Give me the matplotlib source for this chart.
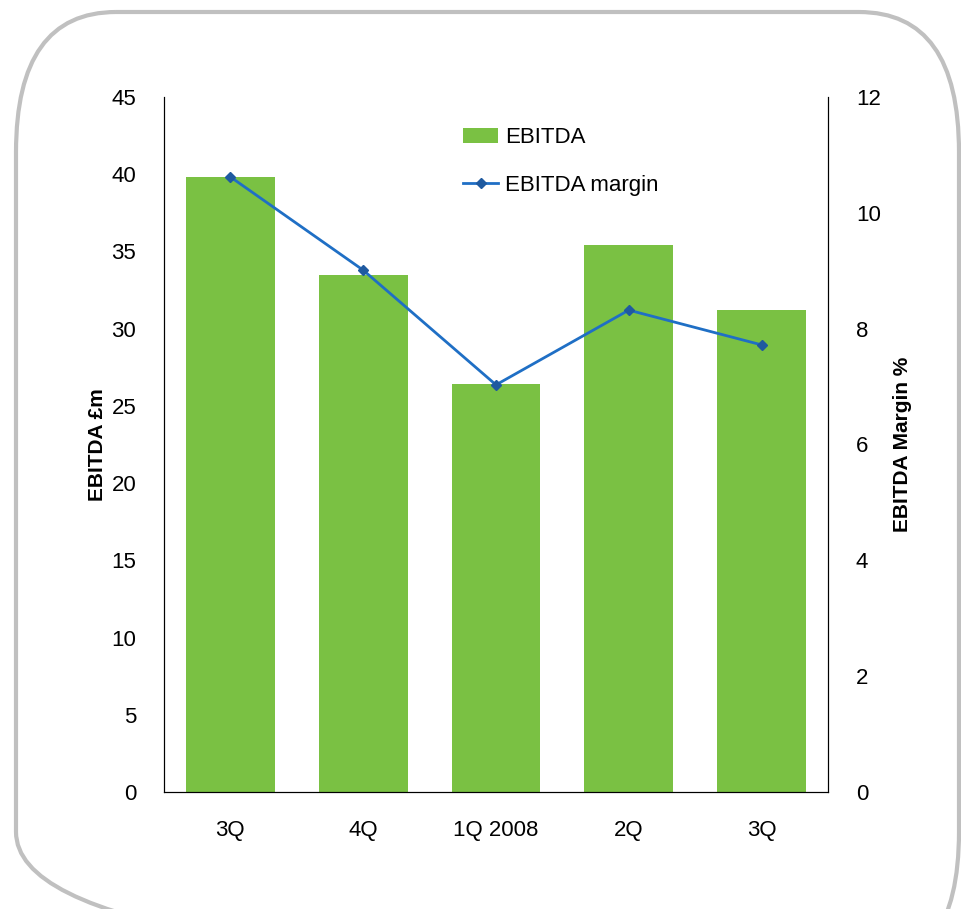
import matplotlib.pyplot as plt
from matplotlib.patches import FancyBboxPatch

# data
quarters = ['3Q', '4Q', '1Q 2008', '2Q', '3Q']
ebitda = [39.8, 33.5, 26.4, 35.4, 31.2]
margin = [10.62, 9.01, 7.03, 8.32, 7.72]

plt.rcParams['font.family'] = ['Liberation Sans', 'DejaVu Sans']

fig = plt.figure(figsize=(9.61, 9.09), dpi=100)

# background axes in pixel units for the rounded grey frame
bg = fig.add_axes([0, 0, 1, 1], zorder=-1)
bg.set_xlim(0, 961)
bg.set_ylim(909, 0)
bg.axis('off')
bg.add_patch(FancyBboxPatch((16, 12), 943, 960,
                            boxstyle='round,pad=0,rounding_size=100',
                            mutation_aspect=1.4,
                            fill=False, edgecolor='#c0c0c0', linewidth=3))

ax = fig.add_axes([164 / 961, 1 - 792 / 909, 664 / 961, 695 / 909])
ax2 = ax.twinx()

x = range(len(quarters))
ax.bar(x, ebitda, width=0.67, color='#7ac143', label='EBITDA', zorder=2)
ax2.plot(x, margin, color='#1f6fc5', linewidth=2, marker='D', markersize=5,
         markerfacecolor='#1f5aa0', markeredgecolor='#1f5aa0',
         label='EBITDA margin')

ax.set_xlim(-0.5, 4.5)
ax.set_ylim(0, 45)
ax2.set_ylim(0, 12)
ax.set_yticks(range(0, 46, 5))
ax2.set_yticks(range(0, 13, 2))
ax.set_xticks(list(x))
ax.set_xticklabels(quarters)

for a in (ax, ax2):
    a.spines['top'].set_visible(False)
    a.tick_params(length=0, labelsize=16)
ax.tick_params(axis='y', pad=20)
ax.tick_params(axis='x', pad=20)
ax2.tick_params(axis='y', pad=20)

ax.set_ylabel('EBITDA £m', fontsize=15, fontweight='bold', labelpad=3)
ax2.set_ylabel('EBITDA Margin %', fontsize=15, fontweight='bold', labelpad=9)

h1, l1 = ax.get_legend_handles_labels()
h2, l2 = ax2.get_legend_handles_labels()
ax.legend(h1 + h2, l1 + l2, loc='upper left', bbox_to_anchor=(0.42, 0.985),
          frameon=False, fontsize=16, handlelength=1.6, handletextpad=0.3,
          labelspacing=1.2)

fig.savefig('out.png', dpi=100)
